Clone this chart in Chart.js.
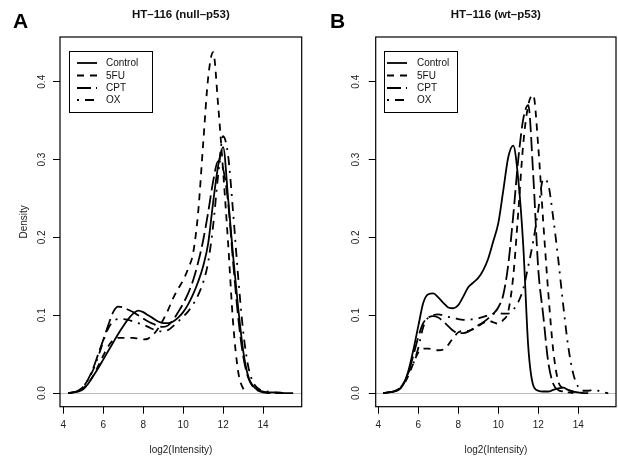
<!DOCTYPE html>
<html><head><meta charset="utf-8">
<script src="https://cdn.jsdelivr.net/npm/chart.js@4.4.1/dist/chart.umd.min.js"></script>
<style>
html,body{margin:0;padding:0;background:#fff;}
#wrap{position:relative;width:618px;height:458px;overflow:hidden;background:#fff;}
.pane{position:absolute;top:0;width:309px;height:458px;}
canvas{display:block;}
</style></head><body>
<div id="wrap">
<div class="pane" style="left:0"><canvas id="cA" width="309" height="458"></canvas></div>
<div class="pane" style="left:309px"><canvas id="cB" width="309" height="458"></canvas></div>
</div>
<script>
// x grid of log2(Intensity) values (shared by all density curves)
const xGrid = [4.25,4.5,4.75,5,5.25,5.5,5.75,6,6.25,6.5,6.75,7,7.25,7.5,7.75,8,8.25,8.5,8.75,9,9.25,9.5,9.75,10,10.25,10.5,10.75,11,11.25,11.5,11.75,12,12.25,12.5,12.75,13,13.25,13.5,13.75,14,14.25,14.5,14.75,15,15.25,15.5];
const xTicks = [4,6,8,10,12,14];
const yTicks = [0,0.1,0.2,0.3,0.4];
const seriesLabels = ['Control','5FU','CPT','OX'];
const panelTitles = ['HT\u2013116 (null\u2013p53)','HT\u2013116 (wt\u2013p53)'];
const panelLetters = ['A','B'];
const xTitle = 'log2(Intensity)';
const yTitle = 'Density';

// Panel A: HT-116 (null-p53)
const nullControl = [0,0.001,0.002,0.005,0.012,0.022,0.032,0.043,0.054,0.065,0.076,0.086,0.095,0.102,0.106,0.104,0.100,0.096,0.092,0.090,0.090,0.092,0.097,0.104,0.114,0.127,0.143,0.163,0.192,0.245,0.292,0.316,0.250,0.176,0.110,0.055,0.022,0.009,0.004,0.002,0.001,0.001,0,0,0,0];
const null5FU     = [0,0.001,0.002,0.006,0.013,0.022,0.035,0.048,0.060,0.068,0.071,0.071,0.071,0.071,0.070,0.069,0.070,0.075,0.083,0.094,0.107,0.122,0.134,0.145,0.160,0.180,0.232,0.320,0.405,0.438,0.370,0.285,0.192,0.090,0.028,0.006,0.001,null,null,null,null,null,null,null,null,null];
const nullCPT     = [0,0.001,0.003,0.008,0.018,0.032,0.050,0.068,0.087,0.104,0.111,0.110,0.107,0.104,0.100,0.096,0.092,0.089,0.086,0.085,0.087,0.094,0.104,0.115,0.128,0.145,0.168,0.196,0.232,0.272,0.298,0.288,0.245,0.168,0.098,0.048,0.020,0.008,0.003,0.001,0,0,0,null,null,null];
const nullOX      = [0,0.001,0.003,0.008,0.017,0.030,0.047,0.066,0.083,0.092,0.095,0.095,0.094,0.092,0.090,0.088,0.085,0.082,0.080,0.079,0.081,0.086,0.092,0.098,0.105,0.114,0.126,0.142,0.168,0.215,0.280,0.330,0.305,0.232,0.150,0.080,0.035,0.014,0.006,0.003,0.002,0.001,0.001,0,0,null];

// Panel B: HT-116 (wt-p53)
const wtControl = [0,0.001,0.002,0.004,0.011,0.028,0.055,0.086,0.116,0.127,0.128,0.123,0.116,0.110,0.109,0.113,0.124,0.136,0.142,0.148,0.158,0.173,0.195,0.218,0.260,0.303,0.318,0.275,0.190,0.060,0.010,0.003,0.002,0.002,0.004,0.006,0.007,0.004,0.002,0.001,0,0,null,null,null,null];
const wt5FU     = [0,0.001,0.002,0.004,0.010,0.022,0.038,0.052,0.057,0.057,0.056,0.055,0.056,0.062,0.071,0.078,0.080,0.080,0.082,0.086,0.090,0.093,0.091,0.089,0.094,0.105,0.150,0.232,0.320,0.370,0.383,0.317,0.220,0.130,0.055,0.015,0.006,0.004,0.002,0.001,0,null,null,null,null,null];
const wtCPT     = [0,0.001,0.002,0.005,0.012,0.026,0.048,0.072,0.090,0.097,0.099,0.097,0.092,0.086,0.080,0.077,0.077,0.079,0.083,0.087,0.091,0.096,0.102,0.110,0.126,0.165,0.228,0.300,0.352,0.370,0.280,0.160,0.100,0.040,0.012,0.004,0.002,0.001,0,null,null,null,null,null,null,null];
const wtOX      = [0,0.001,0.002,0.005,0.012,0.026,0.038,0.058,0.085,0.097,0.100,0.101,0.100,0.098,0.097,0.095,0.094,0.094,0.095,0.096,0.098,0.100,0.102,0.103,0.102,0.102,0.107,0.117,0.134,0.163,0.195,0.235,0.275,0.268,0.225,0.172,0.113,0.060,0.025,0.008,0.003,0.003,0.004,0.003,0.001,0];

const FONT = "'Liberation Sans', Arial, Helvetica, sans-serif";
const lineDashes = [[], [7,6], [14,5], [2,6,9,6]];

function makePanel(canvasId, idx, series, cfg) {
  const datasets = series.map((vals, i) => ({
    label: seriesLabels[i],
    data: xGrid.map((x, j) => ({x: x, y: vals[j]})),
    borderColor: '#000',
    borderWidth: 1.8,
    borderDash: lineDashes[i],
    pointRadius: 0,
    fill: false,
    cubicInterpolationMode: 'monotone',
    spanGaps: false
  }));

  const framePlugin = {
    id: 'rframe',
    beforeDatasetsDraw(chart) {
      const {ctx, chartArea: a, scales} = chart;
      const y0 = Math.round(scales.y.getPixelForValue(0)) + 0.5;
      ctx.save();
      ctx.strokeStyle = '#bdbdbd';
      ctx.lineWidth = 1;
      ctx.beginPath(); ctx.moveTo(a.left, y0); ctx.lineTo(a.right, y0); ctx.stroke();
      ctx.restore();
    },
    afterDraw(chart) {
      const {ctx, chartArea: a} = chart;
      ctx.save();
      ctx.strokeStyle = '#000';
      ctx.lineWidth = 1.2;
      ctx.strokeRect(a.left, a.top, a.right - a.left, a.bottom - a.top);
      // legend
      const L = cfg.legend;
      ctx.lineWidth = 1;
      ctx.strokeRect(L.x + 0.5, L.y + 0.5, L.w, L.h);
      ctx.font = '10px ' + FONT;
      ctx.fillStyle = '#111';
      ctx.textBaseline = 'middle';
      ctx.textAlign = 'left';
      chart.data.datasets.forEach((ds, i) => {
        const yy = L.rows[i];
        ctx.setLineDash(ds.borderDash || []);
        ctx.lineWidth = ds.borderWidth;
        ctx.beginPath(); ctx.moveTo(L.s0, yy); ctx.lineTo(L.s1, yy); ctx.stroke();
        ctx.setLineDash([]);
        ctx.fillText(ds.label, L.t0, yy + 0.5);
      });
      // panel letter
      ctx.font = 'bold 21px ' + FONT;
      ctx.fillStyle = '#000';
      ctx.textBaseline = 'alphabetic';
      ctx.fillText(panelLetters[idx], cfg.letterX, 28);
      ctx.restore();
    }
  };

  return new Chart(document.getElementById(canvasId), {
    type: 'line',
    data: {datasets},
    options: {
      responsive: false,
      animation: false,
      devicePixelRatio: 1,
      layout: {padding: {left: 0, right: cfg.padRight, top: 0, bottom: 0}},
      plugins: {
        legend: {display: false},
        tooltip: {enabled: false},
        title: {
          display: true, text: panelTitles[idx], color: '#111', fullSize: false,
          font: {family: FONT, size: 11.5, weight: 'bold'},
          padding: {top: 8.4, bottom: 14.8}
        }
      },
      scales: {
        x: {
          type: 'linear', min: cfg.xMin, max: cfg.xMax,
          afterBuildTicks: s => { s.ticks = xTicks.map(v => ({value: v})); },
          afterFit: s => { s.height = 51.3; },
          grid: {display: true, drawOnChartArea: false, drawTicks: true, tickLength: 7, tickColor: '#000', tickWidth: 1},
          border: {display: false},
          ticks: {padding: 6, maxRotation: 0, autoSkip: false, color: '#222', font: {family: FONT, size: 10}, callback: v => String(v)},
          title: {display: true, text: xTitle, color: '#222', font: {family: FONT, size: 10}, padding: {top: 0, bottom: 2}}
        },
        y: {
          type: 'linear', min: -0.0175, max: 0.4575,
          afterBuildTicks: s => { s.ticks = yTicks.map(v => ({value: v})); },
          afterFit: s => { s.width = cfg.yWidth; },
          grid: {display: true, drawOnChartArea: false, drawTicks: true, tickLength: 7, tickColor: '#000', tickWidth: 1},
          border: {display: false},
          ticks: {minRotation: 90, maxRotation: 90, crossAlign: 'center', padding: cfg.yPad, autoSkip: false, color: '#222', font: {family: FONT, size: 10}, callback: v => Number(v).toFixed(1)},
          title: {display: cfg.showYTitle, text: yTitle, color: '#222', font: {family: FONT, size: 10}, padding: {top: 18, bottom: 0}}
        }
      }
    },
    plugins: [framePlugin]
  });
}

makePanel('cA', 0, [nullControl, null5FU, nullCPT, nullOX], {
  xMin: 3.84, xMax: 15.93, yWidth: 60, padRight: 7.3, yPad: 3.5, showYTitle: true, letterX: 13,
  legend: {x: 69, y: 51, w: 83, h: 61, s0: 77, s1: 97, t0: 106, rows: [63, 75.5, 88, 100]}
});
makePanel('cB', 1, [wtControl, wt5FU, wtCPT, wtOX], {
  xMin: 3.87, xMax: 15.89, yWidth: 66.7, padRight: 2, yPad: 5, showYTitle: false, letterX: 21,
  legend: {x: 75, y: 51, w: 73, h: 61, s0: 78, s1: 98, t0: 108, rows: [63, 75.5, 88, 100]}
});
</script>
</body></html>
